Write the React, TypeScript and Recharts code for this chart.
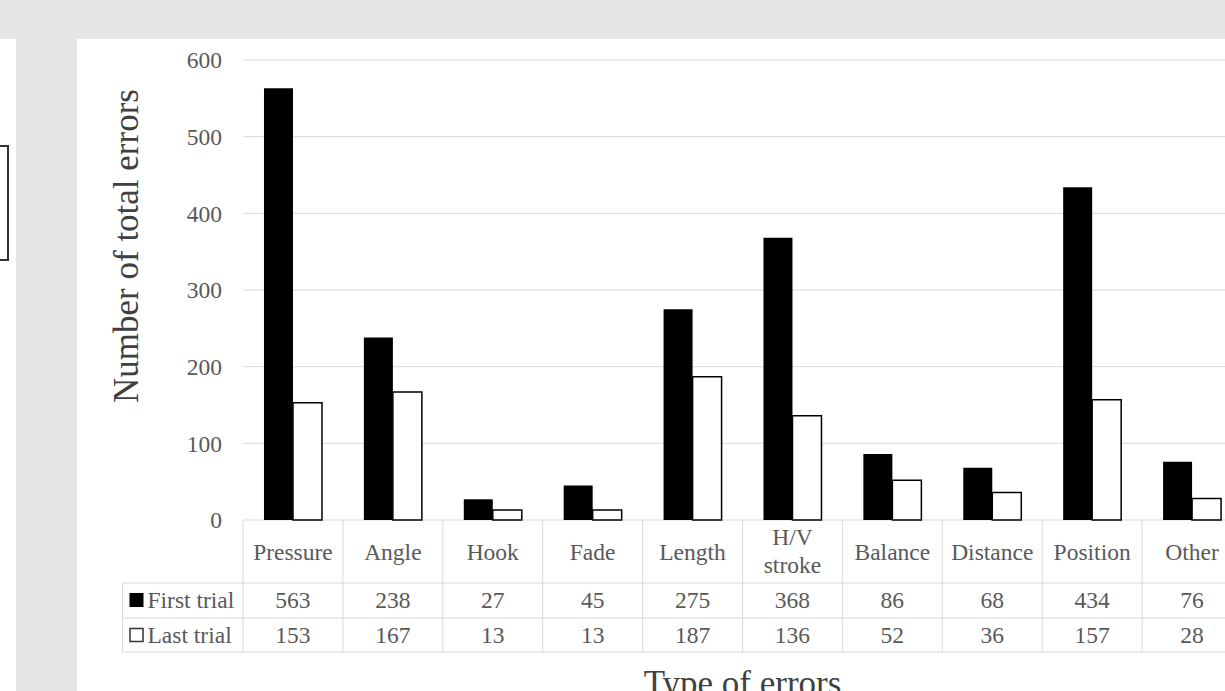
import React from 'react';
import { BarChart, Bar, XAxis, YAxis, CartesianGrid } from 'recharts';

const categories = ['Pressure', 'Angle', 'Hook', 'Fade', 'Length', 'H/V\nstroke', 'Balance', 'Distance', 'Position', 'Other'];
const firstTrial = [563, 238, 27, 45, 275, 368, 86, 68, 434, 76];
const lastTrial = [153, 167, 13, 13, 187, 136, 52, 36, 157, 28];
const yTicks = [0, 100, 200, 300, 400, 500, 600];
const seriesNames = ['First trial', 'Last trial'];

const data = categories.map((c, i) => ({ category: c, first: firstTrial[i], last: lastTrial[i] }));

const CHART_W = 1250;
const CHART_H = 700;
const MARGIN = { top: 60, right: 8, bottom: 0, left: 183 };
const Y_AXIS_W = 60;
const PLOT_W = CHART_W - MARGIN.left - MARGIN.right - Y_AXIS_W;
const BAND = PLOT_W / categories.length;

const FONT = '"Liberation Serif", "Times New Roman", serif';
const TXT = '#595959';
const LINE = '#d9d9d9';
const TABLE_FS = 23.5;

const HEADER_H = 63;
const ROW1_H = 35;
const ROW2_H = 34;
const LEGEND_W = 120.5;

const TableTick = (props: any) => {
  const { x, y, payload } = props;
  const idx = categories.indexOf(payload.value);
  const left = x - BAND / 2;
  const right = x + BAND / 2;
  const r1 = y + HEADER_H;
  const r2 = r1 + ROW1_H;
  const r3 = r2 + ROW2_H;
  const lines = String(payload.value).split('\n');
  const isLast = idx === categories.length - 1;
  const textProps = { fontFamily: FONT, fontSize: TABLE_FS, fill: TXT, textAnchor: 'middle' as const };
  return (
    <g>
      <line x1={left} y1={y} x2={left} y2={r3} stroke={LINE} />
      {isLast && <line x1={right} y1={y} x2={right} y2={r3} stroke={LINE} />}
      <line x1={left} y1={r1} x2={right} y2={r1} stroke={LINE} />
      <line x1={left} y1={r2} x2={right} y2={r2} stroke={LINE} />
      <line x1={left} y1={r3} x2={right} y2={r3} stroke={LINE} />
      {lines.length === 1 ? (
        <text x={x} y={y + 40} {...textProps}>{lines[0]}</text>
      ) : (
        lines.map((l, k) => (
          <text key={k} x={x} y={y + 25 + k * 27.7} {...textProps}>{l}</text>
        ))
      )}
      <text x={x} y={r1 + 25} {...textProps}>{firstTrial[idx]}</text>
      <text x={x} y={r2 + 24.7} {...textProps}>{lastTrial[idx]}</text>
      {idx === 0 && (
        <g>
          <line x1={left - LEGEND_W} y1={r1} x2={left} y2={r1} stroke={LINE} />
          <line x1={left - LEGEND_W} y1={r2} x2={left} y2={r2} stroke={LINE} />
          <line x1={left - LEGEND_W} y1={r3} x2={left} y2={r3} stroke={LINE} />
          <line x1={left - LEGEND_W} y1={r1} x2={left - LEGEND_W} y2={r3} stroke={LINE} />
          <rect x={left - LEGEND_W + 7} y={r1 + 10} width={14} height={14} fill="#000" />
          <text x={left - LEGEND_W + 25} y={r1 + 25} fontFamily={FONT} fontSize={TABLE_FS} fill={TXT}>{seriesNames[0]}</text>
          <rect x={left - LEGEND_W + 7.5} y={r2 + 10.5} width={13} height={13} fill="#fff" stroke="#333" strokeWidth={1.5} />
          <text x={left - LEGEND_W + 25} y={r2 + 24.7} fontFamily={FONT} fontSize={TABLE_FS} fill={TXT}>{seriesNames[1]}</text>
        </g>
      )}
    </g>
  );
};

const YTitle = (props: any) => {
  const vb = props.viewBox || {};
  const cx = vb.x - 45;
  const cy = vb.y + vb.height / 2 - 44;
  return (
    <text transform={`translate(${cx},${cy}) rotate(-90)`} textAnchor="middle" fontFamily={FONT} fontSize={35} fill="#404040">
      Number of total errors
    </text>
  );
};

const XTitle = (props: any) => {
  const vb = props.viewBox || {};
  return (
    <text x={vb.x + vb.width / 2} y={695} textAnchor="middle" fontFamily={FONT} fontSize={35} fill="#404040">
      Type of errors
    </text>
  );
};

export default function App() {
  return (
    <div style={{ position: 'absolute', left: 0, top: 0, width: 1225, height: 691, overflow: 'hidden', background: '#e6e6e6' }}>
      <div style={{ position: 'absolute', left: 0, top: 39, width: 16, height: 652, background: '#fff' }} />
      <div style={{ position: 'absolute', left: 0, top: 145, width: 7, height: 112, border: '2px solid #333', borderLeft: 'none', background: '#fff' }} />
      <div style={{ position: 'absolute', left: 77, top: 39, width: 1148, height: 652, background: '#fff' }} />
      <div style={{ position: 'absolute', left: 0, top: 0 }}>
        <BarChart width={CHART_W} height={CHART_H} data={data} margin={MARGIN} barCategoryGap="21%" barGap={0}>
          <CartesianGrid vertical={false} stroke={LINE} />
          <XAxis
            dataKey="category"
            axisLine={false}
            tickLine={false}
            tickSize={0}
            tickMargin={0}
            height={CHART_H - MARGIN.top - 460}
            interval={0}
            tick={<TableTick />}
            label={<XTitle />}
          />
          <YAxis
            width={Y_AXIS_W}
            domain={[0, 600]}
            ticks={yTicks}
            axisLine={false}
            tickLine={false}
            tickSize={0}
            tickMargin={21}
            tick={{ fontFamily: FONT, fontSize: TABLE_FS, fill: TXT }}
            label={<YTitle />}
          />
          <Bar dataKey="first" name={seriesNames[0]} fill="#000" isAnimationActive={false} />
          <Bar dataKey="last" name={seriesNames[1]} fill="#fff" stroke="#000" strokeWidth={1.5} isAnimationActive={false} />
        </BarChart>
      </div>
    </div>
  );
}
